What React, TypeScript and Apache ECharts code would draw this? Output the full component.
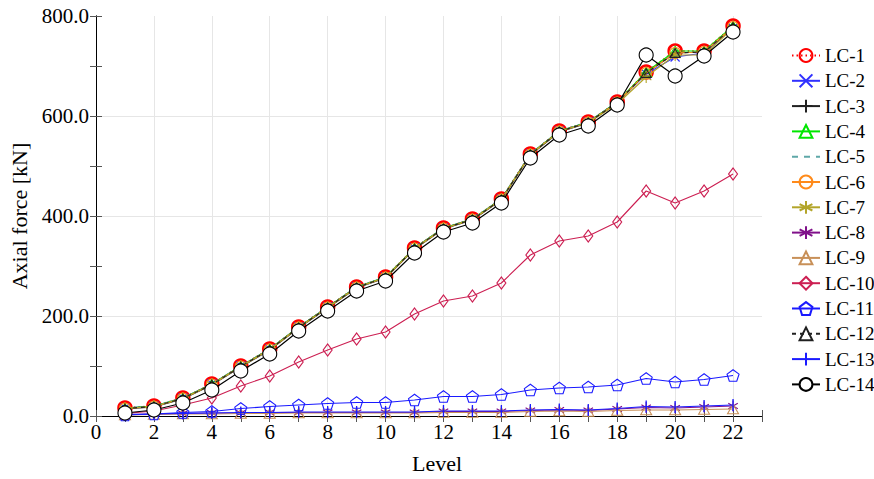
import React, { useEffect, useRef } from "react";
import * as echarts from "echarts";

const levels = [1, 2, 3, 4, 5, 6, 7, 8, 9, 10, 11, 12, 13, 14, 15, 16, 17, 18, 19, 20, 21, 22];
const lc1 = [16, 20, 36, 64, 100, 134, 178, 218, 258, 278, 336, 376, 394, 434, 524, 570, 588, 628, 688, 730, 730, 780];
const lc2 = [16, 20, 36, 64, 100, 134, 178, 218, 258, 278, 336, 376, 394, 434, 524, 570, 588, 628, 684, 718, 726, 776];
const lc3 = [14, 18, 34, 62, 98, 132, 176, 216, 256, 276, 334, 374, 392, 432, 522, 568, 586, 626, 686, 726, 728, 776];
const lc4 = [16, 20, 36, 64, 100, 134, 178, 218, 258, 278, 336, 376, 394, 434, 524, 570, 588, 628, 688, 730, 730, 780];
const lc5 = [15, 19, 35, 63, 99, 133, 177, 217, 257, 277, 335, 375, 393, 433, 523, 569, 587, 627, 686, 726, 728, 778];
const lc6 = [15, 19, 35, 63, 99, 133, 177, 217, 257, 277, 335, 375, 393, 433, 523, 569, 587, 627, 686, 726, 728, 778];
const lc7 = [15, 19, 35, 63, 99, 133, 177, 217, 257, 277, 335, 375, 393, 433, 523, 569, 587, 624, 678, 722, 722, 776];
const lc8 = [3, 4, 5, 6, 6, 7, 7, 7, 7, 7, 7, 9, 9, 9, 11, 12, 11, 14, 17, 16, 18, 20];
const lc9 = [2, 3, 4, 4, 5, 5, 6, 6, 6, 6, 6, 7, 7, 7, 9, 10, 9, 11, 12, 12, 13, 14];
const lc10 = [5, 10, 22, 36, 60, 80, 108, 132, 154, 168, 204, 230, 240, 266, 322, 350, 360, 388, 450, 426, 450, 484];
const lc11 = [2, 4, 7, 9, 15, 19, 22, 25, 27, 27, 32, 39, 39, 43, 52, 56, 58, 62, 75, 68, 73, 81];
const lc12 = [15, 19, 35, 63, 99, 133, 177, 217, 257, 277, 335, 375, 393, 433, 523, 569, 587, 627, 686, 726, 728, 778];
const lc13 = [3, 4, 5, 6, 7, 7, 8, 8, 8, 8, 8, 10, 10, 10, 12, 13, 12, 15, 19, 18, 20, 22];
const lc14 = [6, 12, 26, 52, 90, 124, 170, 210, 250, 270, 326, 368, 386, 426, 516, 562, 580, 622, 722, 680, 720, 768];

const names = ["LC-1", "LC-2", "LC-3", "LC-4", "LC-5", "LC-6", "LC-7", "LC-8", "LC-9", "LC-10", "LC-11", "LC-12", "LC-13", "LC-14"];
const values = [lc1, lc2, lc3, lc4, lc5, lc6, lc7, lc8, lc9, lc10, lc11, lc12, lc13, lc14];

const CROSS = "path://M0,0L10,10M0,10L10,0";
const PLUS = "path://M5,0L5,10M0,5L10,5";
const STAR = "path://M5,0L5,10M0.67,2.5L9.33,7.5M0.67,7.5L9.33,2.5";
const TRI = "path://M5,0L10,8.66L0,8.66Z";
const DIAM = "path://M5,0L10,5L5,10L0,5Z";
const PENT = "path://M5,0L9.76,3.45L7.94,9.05L2.06,9.05L0.24,3.45Z";
const BAR = "path://M0,0M5,0L5,10M10,10";

type Sty = {
  color: string;
  dash: any;
  width: number;
  symbol: string;
  size: any;
  fill: string;
  bw: number;
};

const NOFILL = "rgba(0,0,0,0)";

const styles: Sty[] = [
  { color: "#ff0000", dash: [1.5, 3], width: 1.6, symbol: "circle", size: 13, fill: NOFILL, bw: 2.5 },
  { color: "#3030ff", dash: "solid", width: 1.1, symbol: CROSS, size: 9, fill: NOFILL, bw: 1.1 },
  { color: "#202020", dash: "solid", width: 1.1, symbol: PLUS, size: 12, fill: NOFILL, bw: 1.1 },
  { color: "#00e600", dash: "solid", width: 1.1, symbol: TRI, size: 11, fill: NOFILL, bw: 1.1 },
  { color: "#5fa8a8", dash: [6, 6], width: 1.1, symbol: "none", size: 0, fill: NOFILL, bw: 0 },
  { color: "#ff8a1a", dash: "solid", width: 1.1, symbol: "circle", size: 11, fill: NOFILL, bw: 1.1 },
  { color: "#b3a52a", dash: "solid", width: 1.1, symbol: STAR, size: 12, fill: NOFILL, bw: 1.1 },
  { color: "#80108a", dash: "solid", width: 1.1, symbol: STAR, size: 11, fill: NOFILL, bw: 1.1 },
  { color: "#c89058", dash: "solid", width: 1.1, symbol: TRI, size: 11, fill: NOFILL, bw: 1.1 },
  { color: "#cc1f52", dash: "solid", width: 1.1, symbol: DIAM, size: [9, 12], fill: NOFILL, bw: 1.1 },
  { color: "#1a1aff", dash: "solid", width: 1.1, symbol: PENT, size: 12, fill: NOFILL, bw: 1.1 },
  { color: "#202020", dash: [4, 4], width: 1.1, symbol: TRI, size: 10, fill: NOFILL, bw: 1.1 },
  { color: "#1a1aff", dash: "solid", width: 1.1, symbol: BAR, size: 12, fill: NOFILL, bw: 1.3 },
  { color: "#000000", dash: "solid", width: 1.2, symbol: "circle", size: 14, fill: "#ffffff", bw: 1.1 },
];

const FONT = "Liberation Serif";

export default function App() {
  const ref = useRef<HTMLDivElement>(null);
  useEffect(() => {
    if (!ref.current) return;
    const chart = echarts.init(ref.current, null, { renderer: "svg" });
    const series = names.map((n, i) => {
      const s = styles[i];
      return {
        name: n,
        type: "line",
        data: levels.map((l, j) => [l, values[i][j]]),
        symbol: s.symbol,
        symbolSize: s.size,
        symbolKeepAspect: true,
        showSymbol: s.symbol !== "none",
        color: s.color,
        lineStyle: { color: s.color, width: s.width, type: s.dash },
        itemStyle: { color: s.fill, borderColor: s.color, borderWidth: s.bw },
        z: 2 + i,
      };
    });
    const tickStyle = { color: "#555", width: 1 };
    chart.setOption({
      animation: false,
      textStyle: { fontFamily: FONT, color: "#000" },
      grid: { left: 96, right: 112, top: 16, bottom: 63, containLabel: false },
      legend: {
        orient: "vertical",
        left: 786,
        top: 41,
        itemWidth: 28,
        itemHeight: 16,
        itemGap: 6.3,
        textStyle: { fontFamily: FONT, fontSize: 19, lineHeight: 19, color: "#000" },
        data: names,
      },
      xAxis: [
        {
          type: "value",
          position: "bottom",
          min: 0,
          max: 23,
          interval: 1,
          name: "Level",
          nameLocation: "middle",
          nameGap: 36,
          nameTextStyle: { fontFamily: FONT, fontSize: 22, color: "#000", padding: [0, 0, 0, 16] },
          axisLine: { show: true, lineStyle: { color: "#000", width: 1 } },
          axisTick: { show: true, inside: true, length: 6, lineStyle: tickStyle },
          axisLabel: {
            fontFamily: FONT,
            fontSize: 21,
            color: "#000",
            margin: 5,
            formatter: (v: number) => (v % 2 === 0 && v <= 22 ? String(v) : ""),
          },
          splitLine: { show: false },
        },
        {
          type: "value",
          position: "top",
          min: 0,
          max: 23,
          interval: 1,
          axisLine: { show: true, lineStyle: { color: "#000", width: 1 } },
          axisTick: { show: true, inside: true, length: 6, lineStyle: tickStyle },
          axisLabel: { show: false },
          splitLine: { show: false },
        },
        {
          type: "value",
          position: "bottom",
          min: 0,
          max: 23,
          interval: 2,
          axisLine: { show: false },
          axisTick: { show: false },
          axisLabel: { show: false },
          splitLine: { show: true, showMinLine: false, showMaxLine: false, lineStyle: { color: "#e6e6e6", width: 1 } },
          z: 0,
        },
      ],
      yAxis: [
        {
          type: "value",
          position: "left",
          min: 0,
          max: 800,
          interval: 200,
          name: "Axial force [kN]",
          nameLocation: "middle",
          nameGap: 63,
          nameTextStyle: { fontFamily: FONT, fontSize: 22, color: "#000" },
          axisLine: { show: true, lineStyle: { color: "#000", width: 1 } },
          axisTick: { show: true, inside: true, length: 6, lineStyle: tickStyle },
          minorTick: { show: true, splitNumber: 2, length: 6, lineStyle: tickStyle },
          axisLabel: {
            fontFamily: FONT,
            fontSize: 21,
            color: "#000",
            margin: 7,
            formatter: (v: number) => v.toFixed(1),
          },
          splitLine: { show: true, showMinLine: false, showMaxLine: false, lineStyle: { color: "#e6e6e6", width: 1 } },
        },
        {
          type: "value",
          position: "right",
          min: 0,
          max: 800,
          interval: 200,
          axisLine: { show: true, lineStyle: { color: "#000", width: 1 } },
          axisTick: { show: true, inside: true, length: 6, lineStyle: tickStyle },
          minorTick: { show: true, splitNumber: 2, length: 6, lineStyle: tickStyle },
          axisLabel: { show: false },
          splitLine: { show: false },
        },
      ],
      series,
    });
    return () => chart.dispose();
  }, []);
  return <div ref={ref} style={{ width: 874, height: 479, position: "absolute", left: 0, top: 0 }} />;
}
